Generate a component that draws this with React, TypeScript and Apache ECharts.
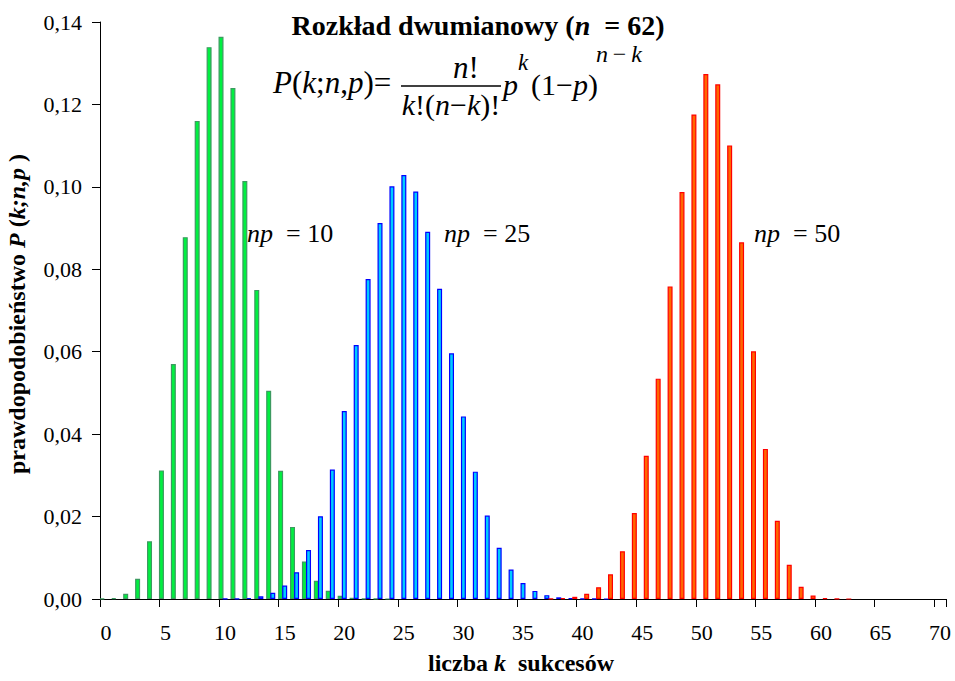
import React, { useEffect, useRef } from "react";
import * as echarts from "echarts";

// k = 0..70
const categories: string[] = Array.from({ length: 71 }, (_, i) => String(i));

const greenValues: number[] = [
  0.000018, 0.000219, 0.00128, 0.00493, 0.0140, 0.0312, 0.0570, 0.0878, 0.1160, 0.1339,
  0.1364, 0.1240, 0.1014, 0.0750, 0.0505, 0.0311, 0.0175, 0.0091, 0.0044, 0.0020,
  0.0008, 0.0003, 0.0001, 0.00004, 0.00001, 0, 0, 0, 0, 0,
  0, 0, 0, 0, 0, 0, 0, 0, 0, 0,
  0, 0, 0, 0, 0, 0, 0, 0, 0, 0,
  0, 0, 0, 0, 0, 0, 0, 0, 0, 0,
  0, 0, 0, 0, 0, 0, 0, 0, 0, 0,
  0,
];

const blueValues: number[] = [
  0, 0, 0, 0, 0, 0, 0, 0, 0, 0,
  0.000027, 0.000086, 0.00025, 0.00064, 0.00151, 0.00327, 0.0065, 0.01188, 0.02007, 0.0314,
  0.04561, 0.06164, 0.07762, 0.09121, 0.10014, 0.10285, 0.09889, 0.08909, 0.07525, 0.05961,
  0.0443, 0.0309, 0.02023, 0.01242, 0.00716, 0.00387, 0.00196, 0.00093, 0.00041, 0.00017,
  0.000067, 0.000024, 0.000008, 0, 0, 0, 0, 0, 0, 0,
  0, 0, 0, 0, 0, 0, 0, 0, 0, 0,
  0, 0, 0, 0, 0, 0, 0, 0, 0, 0,
  0,
];

const redValues: number[] = [
  0, 0, 0, 0, 0, 0, 0, 0, 0, 0,
  0, 0, 0, 0, 0, 0, 0, 0, 0, 0,
  0, 0, 0, 0, 0, 0, 0, 0, 0, 0,
  0, 0, 0, 0, 0, 0, 0, 0.000076, 0.000209, 0.000535,
  0.001283, 0.002868, 0.005975, 0.01158, 0.02084, 0.03473, 0.05347, 0.07585, 0.09876, 0.11757,
  0.12737, 0.12487, 0.11006, 0.08653, 0.06009, 0.03642, 0.01897, 0.00832, 0.00299, 0.000844,
  0.000176, 0.000024, 0.0000016, 0, 0, 0, 0, 0, 0, 0,
  0,
];

const seriesNames = ["np = 10", "np = 25", "np = 50"];
const yTickStep = 0.02;
const yMax = 0.14;

const SERIF = "Liberation Serif";

export default function App() {
  const ref = useRef<HTMLDivElement>(null);

  useEffect(() => {
    if (!ref.current) return;
    const chart = echarts.init(ref.current, undefined, { renderer: "svg" });

    const toData = (arr: number[]) => arr.map((v) => (v === 0 ? null : v));

    const rich = (size: number, bold: boolean) => ({
      r: { fontFamily: SERIF, fontSize: size, fontWeight: bold ? "bold" : "normal", fontStyle: "normal", color: "#000" },
      i: { fontFamily: SERIF, fontSize: size, fontWeight: bold ? "bold" : "normal", fontStyle: "italic", color: "#000" },
    });

    const txt = (x: number, y: number, text: string, size: number, align: string, bold = false, rotation = 0) => ({
      type: "text",
      x,
      y,
      rotation,
      style: {
        text,
        fontFamily: SERIF,
        fontSize: size,
        fontWeight: bold ? "bold" : "normal",
        fill: "#000",
        align,
        verticalAlign: "middle",
        rich: rich(size, bold),
      },
      z: 100,
    });

    const barCommon = { barWidth: 5, barGap: "-18%" };

    const option: any = {
      animation: false,
      backgroundColor: "#fff",
      textStyle: { fontFamily: SERIF },
      grid: { left: 100, right: 9, top: 22, bottom: 82, containLabel: false },
      xAxis: {
        type: "category",
        data: categories,
        boundaryGap: true,
        axisLine: { show: true, lineStyle: { color: "#000", width: 1 } },
        axisTick: { show: true, interval: 4, length: 8, inside: false, lineStyle: { color: "#000" } },
        axisLabel: { interval: 4, margin: 22, fontFamily: SERIF, fontSize: 22, color: "#000" },
        splitLine: { show: false },
      },
      yAxis: {
        type: "value",
        min: 0,
        max: yMax,
        interval: yTickStep,
        axisLine: { show: true, lineStyle: { color: "#000", width: 1 } },
        axisTick: { show: true, length: 8, inside: false, lineStyle: { color: "#000" } },
        axisLabel: {
          margin: 18,
          fontFamily: SERIF,
          fontSize: 22,
          color: "#000",
          formatter: (v: number) => v.toFixed(2).replace(".", ","),
        },
        splitLine: { show: false },
      },
      series: [
        {
          name: seriesNames[0],
          type: "bar",
          data: toData(greenValues),
          ...barCommon,
          itemStyle: { color: "#00f040", borderColor: "#3c9a60", borderWidth: 1.2 },
        },
        {
          name: seriesNames[1],
          type: "bar",
          data: toData(blueValues),
          ...barCommon,
          itemStyle: { color: "#00ccff", borderColor: "#0000ff", borderWidth: 1.2 },
        },
        {
          name: seriesNames[2],
          type: "bar",
          data: toData(redValues),
          ...barCommon,
          itemStyle: { color: "#ff6600", borderColor: "#ff0000", borderWidth: 1.2 },
        },
      ],
      graphic: [
        // title
        txt(478, 25, "{r|Rozkład dwumianowy (}{i|n}{r|  = 62)}", 28, "center", true),
        // formula
        txt(273, 82, "{i|P}{r|(}{i|k}{r|;}{i|n}{r|,}{i|p}{r|)=}", 31, "left"),
        txt(466, 67, "{i|n}{r|!}", 31, "center"),
        {
          type: "line",
          shape: { x1: 401, y1: 86, x2: 501, y2: 86 },
          style: { stroke: "#000", lineWidth: 1.5 },
          z: 100,
        },
        txt(451, 104, "{i|k}{r|!(}{i|n}{r|−}{i|k}{r|)!}", 30, "center"),
        txt(503, 84, "{i|p}", 30, "left"),
        txt(518, 62, "{i|k}", 23, "left"),
        txt(531, 84, "{r|(1−}{i|p}{r|)}", 30, "left"),
        txt(596, 54, "{i|n}{r|\u2009−\u2009}{i|k}", 24, "left"),
        // annotations
        txt(247, 233, "{i|np}{r|  = 10}", 26, "left"),
        txt(444, 233, "{i|np}{r|  = 25}", 26, "left"),
        txt(754, 233, "{i|np}{r|  = 50}", 26, "left"),
        // axis names
        txt(521, 663, "{r|liczba }{i|k}{r|  sukcesów}", 24, "center", true),
        txt(17, 314, "{r|prawdopodobieństwo }{i|P}{r| (}{i|k;n,p}{r| )}", 24, "center", true, Math.PI / 2),
      ],
    };

    chart.setOption(option);
    return () => chart.dispose();
  }, []);

  return (
    <div
      ref={ref}
      style={{ position: "fixed", left: 0, top: 0, width: 955, height: 681, background: "#fff" }}
    />
  );
}
